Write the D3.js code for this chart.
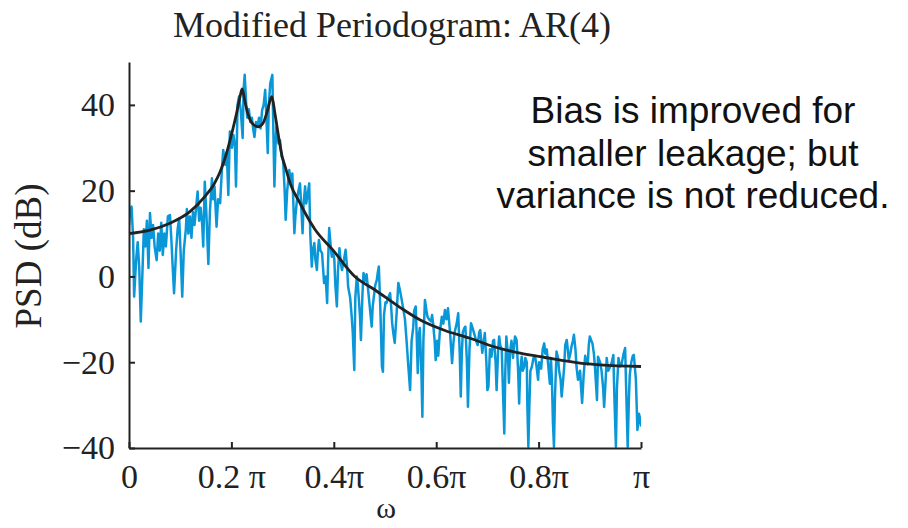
<!DOCTYPE html>
<html>
<head>
<meta charset="utf-8">
<script src="https://cdn.jsdelivr.net/npm/d3@7"></script>
<style>
  body { margin: 0; background: #fff; }
  svg { display: block; }
</style>
</head>
<body>
<svg id="chart" width="908" height="528"></svg>
<script>
// tick labels
const xTicks = [0, 0.2, 0.4, 0.6, 0.8, 1];
const xTickLabels = ["0", "0.2 \u03c0", "0.4\u03c0", "0.6\u03c0", "0.8\u03c0", "\u03c0"];
const yTicks = [-40, -20, 0, 20, 40];
const yTickLabels = ["\u221240", "\u221220", "0", "20", "40"];

// true AR(4) spectrum: [omega/pi, dB]
const arSpectrum = [
  [0.000, 10.0], [0.041, 10.8], [0.080, 12.4], [0.119, 15.1], [0.148, 18.6],
  [0.166, 21.5], [0.178, 24.4], [0.190, 28.5], [0.200, 33.0], [0.210, 38.0],
  [0.217, 42.0], [0.221, 43.7], [0.226, 41.0], [0.232, 38.0], [0.240, 35.8],
  [0.252, 34.9], [0.262, 35.8], [0.270, 38.5], [0.279, 41.9], [0.285, 38.0],
  [0.293, 32.0], [0.299, 28.0], [0.305, 25.6], [0.316, 21.3], [0.334, 17.1],
  [0.344, 14.8], [0.363, 11.0], [0.398, 6.2], [0.441, 0.0], [0.480, -3.1],
  [0.529, -7.2], [0.568, -10.1], [0.617, -12.6], [0.666, -14.4], [0.705, -16.1],
  [0.764, -17.9], [0.812, -18.9], [0.881, -20.2], [0.920, -20.6], [1.000, -21.0]
];

// modified periodogram estimate: [omega/pi, dB]
const periodogram = [
  [0.000, 12], [0.002, 15.5], [0.005, 16.3], [0.008, 9], [0.010, -4.7], [0.014, 4],
  [0.017, 8], [0.020, 2], [0.023, -10.5], [0.026, 0], [0.029, 11], [0.032, 7],
  [0.035, 13], [0.038, 2], [0.041, 14.8], [0.044, 9], [0.047, 12], [0.050, 7],
  [0.054, 3.8], [0.057, 10], [0.060, 6], [0.063, 12.5], [0.066, 5], [0.069, 10],
  [0.072, 7], [0.076, 14], [0.080, 14.3], [0.083, 8], [0.085, 3], [0.088, -3.9],
  [0.092, 6], [0.095, 11], [0.098, 13.5], [0.101, 5], [0.104, -4.7], [0.107, 6],
  [0.111, 11], [0.113, 15.7], [0.116, 10], [0.119, 14], [0.122, 9], [0.125, 15],
  [0.128, 12], [0.131, 16], [0.134, 19.8], [0.137, 13], [0.140, 16], [0.143, 12],
  [0.145, 7], [0.148, 22.1], [0.151, 15], [0.155, 2.9], [0.158, 15], [0.162, 22.9],
  [0.164, 18], [0.167, 21], [0.171, 11.6], [0.174, 18], [0.178, 17.1], [0.181, 24],
  [0.184, 29.5], [0.188, 26], [0.191, 29], [0.194, 19], [0.197, 33.8], [0.201, 30],
  [0.204, 33], [0.207, 30.3], [0.209, 21], [0.212, 40], [0.215, 42], [0.218, 39],
  [0.222, 32.3], [0.224, 44], [0.226, 47], [0.229, 40], [0.231, 37], [0.234, 39],
  [0.237, 36], [0.240, 37], [0.243, 34], [0.245, 32.5], [0.248, 36], [0.251, 35],
  [0.254, 37], [0.257, 34.5], [0.260, 38.8], [0.263, 40], [0.266, 43.5], [0.268, 38],
  [0.271, 28.8], [0.273, 40], [0.276, 45.1], [0.280, 47], [0.281, 40], [0.284, 21],
  [0.286, 30], [0.288, 35], [0.292, 31], [0.295, 31.8], [0.298, 28], [0.301, 27.2],
  [0.304, 20], [0.306, 13.2], [0.309, 20], [0.313, 24.8], [0.316, 22], [0.319, 24],
  [0.323, 10.1], [0.325, 14], [0.328, 17.8], [0.331, 20], [0.334, 21.7], [0.337, 15],
  [0.339, 10.1], [0.341, 17], [0.344, 21], [0.346, 17], [0.349, 19], [0.352, 21.7],
  [0.354, 10], [0.357, 2.3], [0.359, 6], [0.362, 7.8], [0.364, 4], [0.367, 1.5],
  [0.369, 6], [0.371, 8.5], [0.374, 6], [0.377, 5.5], [0.379, 2], [0.381, -1.5],
  [0.384, 0], [0.387, -6.2], [0.389, 4], [0.391, 11.3], [0.394, 7], [0.396, 4.6],
  [0.398, 6], [0.401, 4], [0.403, -2], [0.406, -7], [0.408, 1], [0.411, 6.6],
  [0.414, 3], [0.416, 1.5], [0.420, 4], [0.423, 6.2], [0.426, 2], [0.428, -2.4],
  [0.432, -5], [0.435, -9.4], [0.437, -13], [0.440, -21.8], [0.442, -5], [0.445, 0],
  [0.447, -2], [0.449, -5.5], [0.451, -9], [0.453, -14.8], [0.456, -4], [0.458, 0.8],
  [0.461, -1], [0.464, 0.5], [0.467, -3], [0.469, -5.5], [0.471, -8], [0.474, -11.7],
  [0.476, -7], [0.479, -4], [0.481, -2], [0.484, -0.8], [0.486, 1], [0.488, 2.3],
  [0.491, -8], [0.494, -21], [0.496, -22.2], [0.498, -9], [0.501, -6], [0.503, -6.2],
  [0.506, -5], [0.510, -3.9], [0.512, -7], [0.514, -10.9], [0.516, -13], [0.519, -15.5],
  [0.523, -8], [0.526, -1.5], [0.529, -3.1], [0.532, -5], [0.536, -7.8], [0.539, -10],
  [0.542, -14.8], [0.545, -20], [0.549, -26.5], [0.552, -15], [0.555, -12], [0.557, -8],
  [0.560, -7], [0.562, -14], [0.564, -22.5], [0.566, -14], [0.568, -12], [0.571, -22],
  [0.573, -32.7], [0.575, -15], [0.578, -5.5], [0.581, -8], [0.583, -9.4], [0.586, -10],
  [0.590, -10.5], [0.592, -9], [0.594, -11], [0.597, -15], [0.599, -19.5], [0.602, -15],
  [0.604, -18.5], [0.607, -13], [0.611, -9.4], [0.614, -11], [0.617, -7.8], [0.620, -10],
  [0.623, -7.4], [0.627, -13], [0.631, -20.2], [0.634, -15], [0.636, -13], [0.640, -11],
  [0.643, -8.6], [0.646, -18], [0.648, -28], [0.650, -18], [0.652, -13], [0.655, -12],
  [0.657, -11.7], [0.660, -20], [0.662, -30.4], [0.665, -17], [0.668, -10.9], [0.671, -12],
  [0.674, -13.2], [0.678, -15], [0.681, -16], [0.684, -13], [0.686, -12.5], [0.688, -15],
  [0.690, -17.8], [0.693, -15], [0.695, -13.2], [0.698, -20], [0.700, -26.5], [0.702, -25.7],
  [0.705, -17], [0.708, -18.7], [0.711, -15], [0.713, -14.8], [0.716, -20], [0.718, -26.5],
  [0.721, -17], [0.723, -14], [0.725, -16], [0.728, -17], [0.730, -25], [0.733, -36.6],
  [0.735, -22], [0.737, -14], [0.740, -18], [0.742, -24.8], [0.744, -18], [0.747, -15],
  [0.750, -19], [0.752, -16], [0.754, -14], [0.757, -14.8], [0.760, -22], [0.762, -29.6],
  [0.764, -22], [0.767, -18.7], [0.769, -22], [0.772, -21], [0.774, -19], [0.777, -20],
  [0.778, -30], [0.780, -39.7], [0.782, -30], [0.784, -22], [0.787, -21], [0.790, -19],
  [0.793, -18.5], [0.796, -21], [0.799, -24.1], [0.801, -20], [0.805, -21.5], [0.808, -17],
  [0.811, -15.6], [0.813, -18], [0.816, -17], [0.819, -21], [0.822, -25], [0.824, -19],
  [0.826, -24], [0.828, -34], [0.830, -39.7], [0.832, -28], [0.835, -17.5], [0.838, -19],
  [0.840, -22], [0.843, -24], [0.845, -28], [0.848, -24], [0.850, -21], [0.852, -16],
  [0.855, -14.8], [0.857, -17], [0.859, -19.5], [0.862, -18], [0.864, -16.5], [0.867, -15],
  [0.869, -13.6], [0.872, -17], [0.874, -21], [0.877, -24.1], [0.881, -22], [0.883, -26],
  [0.885, -29.5], [0.888, -23], [0.891, -18.5], [0.893, -20], [0.896, -20.5], [0.898, -16],
  [0.900, -14], [0.903, -15], [0.905, -15.5], [0.908, -18], [0.910, -21], [0.914, -28.8],
  [0.916, -18.7], [0.920, -20], [0.923, -22], [0.926, -26], [0.928, -30.4], [0.931, -24],
  [0.933, -19], [0.936, -22], [0.940, -21], [0.943, -20], [0.946, -18.3], [0.948, -28],
  [0.951, -39.7], [0.953, -26], [0.956, -19], [0.959, -21], [0.962, -20.5], [0.966, -18],
  [0.969, -16.7], [0.971, -26], [0.974, -39.7], [0.976, -30], [0.978, -23], [0.981, -20],
  [0.984, -18.5], [0.986, -18.3], [0.990, -24], [0.993, -35.8], [0.996, -32], [0.998, -33],
  [1.000, -35]
];

const noteLines = ["Bias is improved for", "smaller leakage; but", "variance is not reduced."];

const svg = d3.select("#chart");
const margin = { top: 62, right: 267, bottom: 80, left: 129 };
const width = 908 - margin.left - margin.right;
const height = 528 - margin.top - margin.bottom;
const serif = "'Liberation Serif', 'DejaVu Serif', serif";

const x = d3.scaleLinear().domain([0, 1]).range([0, width]);
const y = d3.scaleLinear().domain([-40, 50]).range([height, 0]);

const g = svg.append("g")
  .attr("transform", "translate(" + margin.left + "," + margin.top + ")");

g.append("clipPath").attr("id", "plot-clip")
  .append("rect").attr("x", 0).attr("y", 0).attr("width", width).attr("height", height);

const line = d3.line().x(d => x(d[0])).y(d => y(d[1]));

// noisy estimate
g.append("path")
  .datum(periodogram)
  .attr("clip-path", "url(#plot-clip)")
  .attr("fill", "none")
  .attr("stroke", "#0a97d8")
  .attr("stroke-width", 2.5)
  .attr("stroke-linejoin", "round")
  .attr("d", line);

// true spectrum
g.append("path")
  .datum(arSpectrum)
  .attr("fill", "none")
  .attr("stroke", "#222")
  .attr("stroke-width", 2.8)
  .attr("d", line.curve(d3.curveMonotoneX));

// axes
const xAxis = d3.axisBottom(x)
  .tickValues(xTicks)
  .tickFormat((d, i) => xTickLabels[i])
  .tickSizeInner(-6).tickSizeOuter(0).tickPadding(16);

const yAxis = d3.axisLeft(y)
  .tickValues(yTicks)
  .tickFormat((d, i) => yTickLabels[i])
  .tickSizeInner(-6).tickSizeOuter(0).tickPadding(14);

const gx = g.append("g").attr("transform", "translate(0," + height + ")").call(xAxis);
const gy = g.append("g").call(yAxis);

[gx, gy].forEach(a => {
  a.select(".domain").attr("stroke", "#222").attr("stroke-width", 2);
  a.selectAll(".tick line").attr("stroke", "#222").attr("stroke-width", 2);
  a.selectAll(".tick text")
    .attr("fill", "#222")
    .style("font-family", serif)
    .style("font-size", "34px");
});

// title and axis labels
svg.append("text")
  .attr("x", 392).attr("y", 37)
  .attr("text-anchor", "middle")
  .style("font-family", serif).style("font-size", "36px").attr("fill", "#222")
  .text("Modified Periodogram: AR(4)");

svg.append("text")
  .attr("transform", "translate(41,256) rotate(-90)")
  .attr("text-anchor", "middle")
  .style("font-family", serif).style("font-size", "37px").attr("fill", "#222")
  .text("PSD (dB)");

svg.append("text")
  .attr("x", 386).attr("y", 518)
  .attr("text-anchor", "middle")
  .style("font-family", serif).style("font-size", "30px").attr("fill", "#222")
  .text("\u03c9");

// annotation
svg.append("g").selectAll("text")
  .data(noteLines)
  .enter().append("text")
  .attr("x", 693)
  .attr("y", (d, i) => 123 + i * 42.5)
  .attr("text-anchor", "middle")
  .style("font-family", "'Liberation Sans', Arial, sans-serif")
  .style("font-size", "37px")
  .attr("fill", "#111")
  .text(d => d);
</script>
</body>
</html>
